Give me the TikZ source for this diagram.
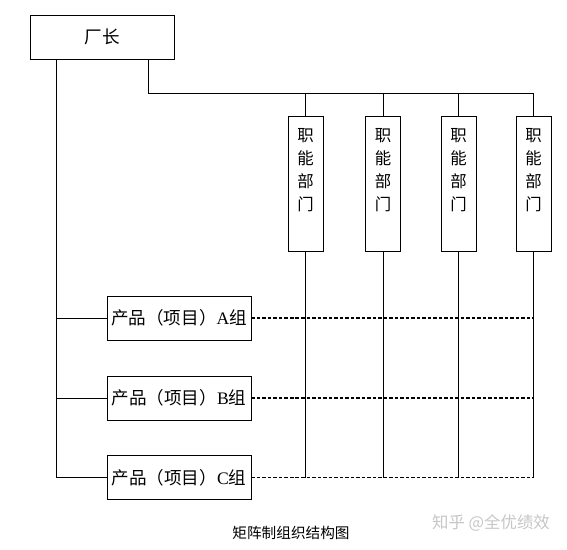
\documentclass[tikz,border=0pt]{standalone}
\usepackage{fontspec}
\setmainfont{Liberation Serif}
\newfontfamily\cjk{Noto Sans CJK SC}
\usepackage{tikz}
\usetikzlibrary{positioning}

\begin{document}
\begin{tikzpicture}[x=0.03cm, y=-0.03cm,
  box/.style={rectangle, draw, line width=0.75pt, inner sep=0pt},
  dept/.style={box, minimum width=1.05cm, minimum height=4.05cm},
  dtxt/.style={align=center, inner sep=0pt, font=\cjk\fontsize{14}{19.6}\selectfont},
  prod/.style={box, minimum width=4.32cm, minimum height=1.32cm,
               font=\fontsize{15}{18}\selectfont},
  link/.style={line width=0.75pt},
  mlink/.style={line width=0.9pt, dash pattern=on 3pt off 1.7pt},
]
\useasboundingbox (0,0) rectangle (567,549);

% top
\node[box, minimum width=4.32cm, minimum height=1.32cm,
      font=\cjk\fontsize{15}{18}\selectfont] (boss) at (102.5,37) {厂长};

% functional departments
\node[dept] (d1) at (305.5,183.5) {};
\node[dtxt] at (305.5,170) {职\\能\\部\\门};
\node[dept] (d2) at (383,183.5) {};
\node[dtxt] at (383,170) {职\\能\\部\\门};
\node[dept] (d3) at (458.5,183.5) {};
\node[dtxt] at (458.5,170) {职\\能\\部\\门};
\node[dept] (d4) at (533.5,183.5) {};
\node[dtxt] at (533.5,170) {职\\能\\部\\门};

% product groups
\node[prod] (pA) at (179,318) {{\cjk 产品（项目）}A{\cjk 组}};
\node[prod] (pB) at (179,398) {{\cjk 产品（项目）}B{\cjk 组}};
\node[prod] (pC) at (179,477.5) {{\cjk 产品（项目）}C{\cjk 组}};

\coordinate (tl) at (56,59);
\coordinate (tr) at (148,59);
\coordinate (bus) at (148,93);

\draw[link] (tl) |- (pC.west);
\draw[link] (tl |- pA.west) -- (pA.west);
\draw[link] (tl |- pB.west) -- (pB.west);
\draw[link] (tr) -- (bus) -- (bus -| d4.north);
\foreach \d in {d1,d2,d3,d4}{
  \draw[link] (bus -| \d.north) -- (\d.north);
  \draw[link] (\d.south) -- (\d.south |- pC.east);
}
\foreach \p in {pA,pB,pC}
  \draw[mlink] (\p.east) -- (\p.east -| d4.south);

\node[font=\cjk\fontsize{12.5}{15}\selectfont] (cap) at (291,533) {矩阵制组织结构图};
\node[font=\cjk\fontsize{14}{16}\selectfont, text=gray!45] (wm) at (491,523) {知乎 @全优绩效};
\end{tikzpicture}
\end{document}
